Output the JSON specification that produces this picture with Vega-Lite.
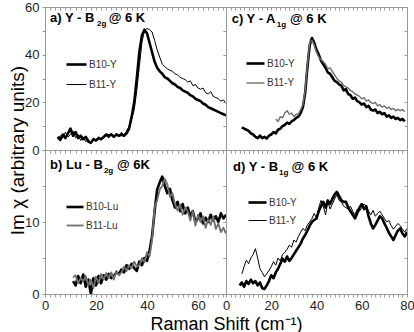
{
"$schema": "https://vega.github.io/schema/vega-lite/v6.json",
"padding": {"left": 8, "top": 0, "right": 5, "bottom": 0},
"background": "white",
"bounds": "flush",
"spacing": 0,
"columns": 2,
"config": {
  "view": {"stroke": "#9a9a9a", "strokeWidth": 1},
  "axis": {"grid": false, "domainColor": "#9a9a9a", "tickColor": "#9a9a9a", "tickSize": 3, "labelFont": "Liberation Sans", "labelFontSize": 13, "labelColor": "#222", "labelPadding": 2, "labelFlush": false, "labelOverlap": false, "titleFont": "Liberation Sans", "titleFontSize": 19, "titleFontWeight": "normal", "titleColor": "#000"},
  "legend": {"orient": "none", "title": null, "symbolType": "stroke", "symbolSize": 400, "labelFont": "Liberation Sans", "labelFontSize": 10, "labelColor": "#333", "labelOffset": 1, "padding": 0, "rowPadding": 4},
  "text": {"font": "Liberation Sans", "fontWeight": "bold", "fontSize": 13, "align": "left", "baseline": "alphabetic", "color": "#000"}
},
"datasets": {
  "a": [
    {"x":5,"B10-Y":5.5,"B11-Y":4.5},{"x":6,"B10-Y":4.2,"B11-Y":6.0},{"x":7,"B10-Y":6.5,"B11-Y":5.0},{"x":8,"B10-Y":5.0,"B11-Y":7.5},{"x":9,"B10-Y":7.0,"B11-Y":5.5},{"x":10,"B10-Y":9.0,"B11-Y":6.5},{"x":11,"B10-Y":6.0,"B11-Y":8.0},{"x":12,"B10-Y":7.5,"B11-Y":5.0},{"x":13,"B10-Y":5.0,"B11-Y":6.5},{"x":14,"B10-Y":6.0,"B11-Y":4.0},{"x":15,"B10-Y":4.5,"B11-Y":5.5},{"x":16,"B10-Y":5.5,"B11-Y":3.5},{"x":17,"B10-Y":3.5,"B11-Y":4.5},{"x":18,"B10-Y":3.0,"B11-Y":3.0},{"x":19,"B10-Y":4.5,"B11-Y":5.0},{"x":20,"B10-Y":4.0,"B11-Y":4.0},{"x":21,"B10-Y":5.0,"B11-Y":5.5},{"x":22,"B10-Y":4.5,"B11-Y":4.5},{"x":23,"B10-Y":5.5,"B11-Y":5.0},{"x":24,"B10-Y":6.5,"B11-Y":6.0},{"x":25,"B10-Y":6.0,"B11-Y":5.0},{"x":26,"B10-Y":6.5,"B11-Y":7.0},{"x":27,"B10-Y":5.5,"B11-Y":5.5},{"x":28,"B10-Y":6.5,"B11-Y":7.0},{"x":29,"B10-Y":6.0,"B11-Y":5.5},{"x":30,"B10-Y":6.5,"B11-Y":7.5},{"x":31,"B10-Y":6.0,"B11-Y":6.0},{"x":32,"B10-Y":7.0,"B11-Y":8.0},{"x":33,"B10-Y":9.0,"B11-Y":10.0},{"x":34,"B10-Y":14.0,"B11-Y":13.0},{"x":35,"B10-Y":20.0,"B11-Y":17.0},{"x":36,"B10-Y":30.0,"B11-Y":25.0},{"x":37,"B10-Y":41.0,"B11-Y":35.0},{"x":38,"B10-Y":48.0,"B11-Y":45.0},{"x":39,"B10-Y":50.5,"B11-Y":50.0},{"x":40,"B10-Y":49.0,"B11-Y":51.0},{"x":41,"B10-Y":45.0,"B11-Y":50.5},{"x":42,"B10-Y":41.0,"B11-Y":49.5},{"x":43,"B10-Y":37.0,"B11-Y":46.0},{"x":44,"B10-Y":34.5,"B11-Y":42.0},{"x":45,"B10-Y":33.0,"B11-Y":39.0},{"x":46,"B10-Y":32.0,"B11-Y":36.0},{"x":47,"B10-Y":30.5,"B11-Y":35.0},{"x":48,"B10-Y":30.0,"B11-Y":34.0},{"x":49,"B10-Y":29.0,"B11-Y":33.5},{"x":50,"B10-Y":28.0,"B11-Y":33.0},{"x":51,"B10-Y":27.5,"B11-Y":32.0},{"x":52,"B10-Y":26.5,"B11-Y":31.5},{"x":53,"B10-Y":26.0,"B11-Y":30.5},{"x":54,"B10-Y":25.0,"B11-Y":30.0},{"x":55,"B10-Y":24.5,"B11-Y":29.5},{"x":56,"B10-Y":24.0,"B11-Y":28.5},{"x":57,"B10-Y":23.0,"B11-Y":29.0},{"x":58,"B10-Y":22.5,"B11-Y":27.0},{"x":59,"B10-Y":21.5,"B11-Y":27.5},{"x":60,"B10-Y":21.0,"B11-Y":26.0},{"x":61,"B10-Y":20.5,"B11-Y":25.5},{"x":62,"B10-Y":19.5,"B11-Y":26.0},{"x":63,"B10-Y":19.0,"B11-Y":24.0},{"x":64,"B10-Y":18.0,"B11-Y":23.5},{"x":65,"B10-Y":17.5,"B11-Y":24.5},{"x":66,"B10-Y":17.0,"B11-Y":22.5},{"x":67,"B10-Y":16.5,"B11-Y":22.0},{"x":68,"B10-Y":16.0,"B11-Y":21.5},{"x":69,"B10-Y":15.5,"B11-Y":20.5},{"x":70,"B10-Y":15.0,"B11-Y":21.0},{"x":71,"B10-Y":14.5,"B11-Y":19.5}
  ],
  "c": [
    {"x":7,"B10-Y":9.5,"B11-Y":null},{"x":8,"B10-Y":9.0,"B11-Y":null},{"x":9,"B10-Y":8.5,"B11-Y":null},{"x":10,"B10-Y":8.0,"B11-Y":null},{"x":11,"B10-Y":7.0,"B11-Y":null},{"x":12,"B10-Y":6.5,"B11-Y":null},{"x":13,"B10-Y":5.5,"B11-Y":null},{"x":14,"B10-Y":5.0,"B11-Y":null},{"x":15,"B10-Y":6.0,"B11-Y":null},{"x":16,"B10-Y":5.0,"B11-Y":null},{"x":17,"B10-Y":5.5,"B11-Y":null},{"x":18,"B10-Y":4.8,"B11-Y":null},{"x":19,"B10-Y":6.0,"B11-Y":null},{"x":20,"B10-Y":6.5,"B11-Y":null},{"x":21,"B10-Y":7.5,"B11-Y":null},{"x":22,"B10-Y":7.0,"B11-Y":13.0},{"x":23,"B10-Y":8.5,"B11-Y":12.0},{"x":24,"B10-Y":9.0,"B11-Y":14.0},{"x":25,"B10-Y":10.0,"B11-Y":13.5},{"x":26,"B10-Y":10.5,"B11-Y":15.5},{"x":27,"B10-Y":11.5,"B11-Y":16.5},{"x":28,"B10-Y":11.0,"B11-Y":15.0},{"x":29,"B10-Y":12.0,"B11-Y":15.5},{"x":30,"B10-Y":12.5,"B11-Y":14.0},{"x":31,"B10-Y":13.5,"B11-Y":15.0},{"x":32,"B10-Y":14.0,"B11-Y":15.0},{"x":33,"B10-Y":15.5,"B11-Y":17.0},{"x":34,"B10-Y":18.0,"B11-Y":19.0},{"x":35,"B10-Y":24.0,"B11-Y":25.0},{"x":36,"B10-Y":35.0,"B11-Y":36.0},{"x":37,"B10-Y":44.0,"B11-Y":45.0},{"x":38,"B10-Y":47.0,"B11-Y":46.0},{"x":39,"B10-Y":45.0,"B11-Y":44.0},{"x":40,"B10-Y":42.0,"B11-Y":41.0},{"x":41,"B10-Y":40.0,"B11-Y":39.0},{"x":42,"B10-Y":37.5,"B11-Y":38.0},{"x":43,"B10-Y":36.0,"B11-Y":37.0},{"x":44,"B10-Y":34.5,"B11-Y":36.0},{"x":45,"B10-Y":32.5,"B11-Y":34.0},{"x":46,"B10-Y":32.0,"B11-Y":34.5},{"x":47,"B10-Y":30.5,"B11-Y":33.0},{"x":48,"B10-Y":29.0,"B11-Y":31.5},{"x":49,"B10-Y":28.5,"B11-Y":30.0},{"x":50,"B10-Y":27.5,"B11-Y":29.0},{"x":51,"B10-Y":27.0,"B11-Y":28.5},{"x":52,"B10-Y":25.0,"B11-Y":27.0},{"x":53,"B10-Y":25.5,"B11-Y":26.5},{"x":54,"B10-Y":23.5,"B11-Y":26.0},{"x":55,"B10-Y":23.0,"B11-Y":25.0},{"x":56,"B10-Y":21.5,"B11-Y":24.5},{"x":57,"B10-Y":22.0,"B11-Y":23.5},{"x":58,"B10-Y":20.5,"B11-Y":23.0},{"x":59,"B10-Y":20.0,"B11-Y":22.5},{"x":60,"B10-Y":19.0,"B11-Y":21.5},{"x":61,"B10-Y":19.5,"B11-Y":22.0},{"x":62,"B10-Y":18.0,"B11-Y":20.5},{"x":63,"B10-Y":18.5,"B11-Y":21.0},{"x":64,"B10-Y":17.0,"B11-Y":20.0},{"x":65,"B10-Y":16.5,"B11-Y":19.5},{"x":66,"B10-Y":17.0,"B11-Y":20.0},{"x":67,"B10-Y":15.5,"B11-Y":18.5},{"x":68,"B10-Y":16.0,"B11-Y":19.0},{"x":69,"B10-Y":15.0,"B11-Y":18.0},{"x":70,"B10-Y":15.5,"B11-Y":18.5},{"x":71,"B10-Y":14.0,"B11-Y":17.5},{"x":72,"B10-Y":14.5,"B11-Y":18.0},{"x":73,"B10-Y":13.5,"B11-Y":17.0},{"x":74,"B10-Y":14.0,"B11-Y":17.5},{"x":75,"B10-Y":13.0,"B11-Y":16.5},{"x":76,"B10-Y":13.5,"B11-Y":17.0},{"x":77,"B10-Y":12.5,"B11-Y":16.5},{"x":78,"B10-Y":13.0,"B11-Y":17.0},{"x":79,"B10-Y":12.0,"B11-Y":16.0}
  ],
  "b": [
    {"x":11,"B10-Lu":1.8,"B11-Lu":2.3},{"x":12,"B10-Lu":1.2,"B11-Lu":2.6},{"x":13,"B10-Lu":2.5,"B11-Lu":1.5},{"x":14,"B10-Lu":1.5,"B11-Lu":2.2},{"x":15,"B10-Lu":2.7,"B11-Lu":1.8},{"x":16,"B10-Lu":1.0,"B11-Lu":2.5},{"x":17,"B10-Lu":2.0,"B11-Lu":1.2},{"x":18,"B10-Lu":0.0,"B11-Lu":2.0},{"x":19,"B10-Lu":2.2,"B11-Lu":0.8},{"x":20,"B10-Lu":1.2,"B11-Lu":2.4},{"x":21,"B10-Lu":2.5,"B11-Lu":1.5},{"x":22,"B10-Lu":1.5,"B11-Lu":2.8},{"x":23,"B10-Lu":2.6,"B11-Lu":2.0},{"x":24,"B10-Lu":2.0,"B11-Lu":2.9},{"x":25,"B10-Lu":2.8,"B11-Lu":2.2},{"x":26,"B10-Lu":2.2,"B11-Lu":3.0},{"x":27,"B10-Lu":2.5,"B11-Lu":2.0},{"x":28,"B10-Lu":3.0,"B11-Lu":3.2},{"x":29,"B10-Lu":2.8,"B11-Lu":2.6},{"x":30,"B10-Lu":3.4,"B11-Lu":3.0},{"x":31,"B10-Lu":3.0,"B11-Lu":3.8},{"x":32,"B10-Lu":4.0,"B11-Lu":3.2},{"x":33,"B10-Lu":3.5,"B11-Lu":4.0},{"x":34,"B10-Lu":4.2,"B11-Lu":3.6},{"x":35,"B10-Lu":3.6,"B11-Lu":4.5},{"x":36,"B10-Lu":3.2,"B11-Lu":3.8},{"x":37,"B10-Lu":4.5,"B11-Lu":4.0},{"x":38,"B10-Lu":4.0,"B11-Lu":5.0},{"x":39,"B10-Lu":5.0,"B11-Lu":4.4},{"x":40,"B10-Lu":4.6,"B11-Lu":5.8},{"x":41,"B10-Lu":6.0,"B11-Lu":5.2},{"x":42,"B10-Lu":8.0,"B11-Lu":7.5},{"x":43,"B10-Lu":11.5,"B11-Lu":12.0},{"x":44,"B10-Lu":14.5,"B11-Lu":13.0},{"x":45,"B10-Lu":15.5,"B11-Lu":14.5},{"x":46,"B10-Lu":16.3,"B11-Lu":15.0},{"x":47,"B10-Lu":15.0,"B11-Lu":16.0},{"x":48,"B10-Lu":14.0,"B11-Lu":15.2},{"x":49,"B10-Lu":14.6,"B11-Lu":13.5},{"x":50,"B10-Lu":13.0,"B11-Lu":14.0},{"x":51,"B10-Lu":12.0,"B11-Lu":12.5},{"x":52,"B10-Lu":12.8,"B11-Lu":11.6},{"x":53,"B10-Lu":11.5,"B11-Lu":12.4},{"x":54,"B10-Lu":12.5,"B11-Lu":11.0},{"x":55,"B10-Lu":11.2,"B11-Lu":12.0},{"x":56,"B10-Lu":12.0,"B11-Lu":11.5},{"x":57,"B10-Lu":10.8,"B11-Lu":10.2},{"x":58,"B10-Lu":11.5,"B11-Lu":11.5},{"x":59,"B10-Lu":10.0,"B11-Lu":9.5},{"x":60,"B10-Lu":10.5,"B11-Lu":11.0},{"x":61,"B10-Lu":11.2,"B11-Lu":10.0},{"x":62,"B10-Lu":9.8,"B11-Lu":10.8},{"x":63,"B10-Lu":10.6,"B11-Lu":9.2},{"x":64,"B10-Lu":10.0,"B11-Lu":10.4},{"x":65,"B10-Lu":11.0,"B11-Lu":9.6},{"x":66,"B10-Lu":10.2,"B11-Lu":10.8},{"x":67,"B10-Lu":10.8,"B11-Lu":9.0},{"x":68,"B10-Lu":10.0,"B11-Lu":9.8},{"x":69,"B10-Lu":11.2,"B11-Lu":8.6},{"x":70,"B10-Lu":10.5,"B11-Lu":9.2},{"x":71,"B10-Lu":11.0,"B11-Lu":8.4}
  ],
  "d": [
    {"x":6,"B10-Y":1.2,"B11-Y":null},{"x":7,"B10-Y":1.6,"B11-Y":2.8},{"x":8,"B10-Y":1.0,"B11-Y":3.8},{"x":9,"B10-Y":1.8,"B11-Y":4.7},{"x":10,"B10-Y":1.4,"B11-Y":4.2},{"x":11,"B10-Y":2.0,"B11-Y":5.0},{"x":12,"B10-Y":1.5,"B11-Y":5.5},{"x":13,"B10-Y":1.8,"B11-Y":6.3},{"x":14,"B10-Y":1.2,"B11-Y":5.0},{"x":15,"B10-Y":1.6,"B11-Y":3.5},{"x":16,"B10-Y":0.8,"B11-Y":3.0},{"x":17,"B10-Y":0.7,"B11-Y":2.4},{"x":18,"B10-Y":1.2,"B11-Y":2.8},{"x":19,"B10-Y":1.8,"B11-Y":3.3},{"x":20,"B10-Y":2.6,"B11-Y":3.8},{"x":21,"B10-Y":2.2,"B11-Y":4.5},{"x":22,"B10-Y":3.0,"B11-Y":4.0},{"x":23,"B10-Y":3.5,"B11-Y":5.0},{"x":24,"B10-Y":4.2,"B11-Y":4.6},{"x":25,"B10-Y":4.9,"B11-Y":5.5},{"x":26,"B10-Y":4.5,"B11-Y":5.8},{"x":27,"B10-Y":5.2,"B11-Y":6.2},{"x":28,"B10-Y":4.6,"B11-Y":6.8},{"x":29,"B10-Y":5.0,"B11-Y":6.5},{"x":30,"B10-Y":5.5,"B11-Y":7.5},{"x":31,"B10-Y":6.0,"B11-Y":7.2},{"x":32,"B10-Y":6.5,"B11-Y":8.0},{"x":33,"B10-Y":7.0,"B11-Y":8.6},{"x":34,"B10-Y":7.7,"B11-Y":9.1},{"x":35,"B10-Y":8.2,"B11-Y":8.8},{"x":36,"B10-Y":8.8,"B11-Y":9.6},{"x":37,"B10-Y":9.5,"B11-Y":10.0},{"x":38,"B10-Y":10.0,"B11-Y":10.5},{"x":39,"B10-Y":10.3,"B11-Y":11.2},{"x":40,"B10-Y":10.5,"B11-Y":10.5},{"x":41,"B10-Y":11.5,"B11-Y":12.0},{"x":42,"B10-Y":12.2,"B11-Y":13.0},{"x":43,"B10-Y":12.8,"B11-Y":12.2},{"x":44,"B10-Y":12.0,"B11-Y":11.0},{"x":45,"B10-Y":13.0,"B11-Y":12.8},{"x":46,"B10-Y":12.5,"B11-Y":11.8},{"x":47,"B10-Y":13.2,"B11-Y":12.5},{"x":48,"B10-Y":13.8,"B11-Y":13.2},{"x":49,"B10-Y":14.2,"B11-Y":13.8},{"x":50,"B10-Y":13.6,"B11-Y":13.0},{"x":51,"B10-Y":13.0,"B11-Y":12.8},{"x":52,"B10-Y":12.8,"B11-Y":12.2},{"x":53,"B10-Y":12.8,"B11-Y":12.0},{"x":54,"B10-Y":12.0,"B11-Y":11.8},{"x":55,"B10-Y":11.5,"B11-Y":12.2},{"x":56,"B10-Y":11.0,"B11-Y":11.5},{"x":57,"B10-Y":10.5,"B11-Y":11.0},{"x":58,"B10-Y":11.2,"B11-Y":11.8},{"x":59,"B10-Y":12.0,"B11-Y":11.5},{"x":60,"B10-Y":12.5,"B11-Y":12.0},{"x":61,"B10-Y":11.8,"B11-Y":12.5},{"x":62,"B10-Y":12.2,"B11-Y":12.2},{"x":63,"B10-Y":10.8,"B11-Y":11.5},{"x":64,"B10-Y":9.8,"B11-Y":11.0},{"x":65,"B10-Y":9.1,"B11-Y":11.6},{"x":66,"B10-Y":9.6,"B11-Y":10.8},{"x":67,"B10-Y":10.2,"B11-Y":11.2},{"x":68,"B10-Y":10.8,"B11-Y":11.5},{"x":69,"B10-Y":10.5,"B11-Y":11.0},{"x":70,"B10-Y":9.8,"B11-Y":10.5},{"x":71,"B10-Y":9.2,"B11-Y":10.0},{"x":72,"B10-Y":8.5,"B11-Y":10.2},{"x":73,"B10-Y":8.0,"B11-Y":9.5},{"x":74,"B10-Y":7.5,"B11-Y":9.0},{"x":75,"B10-Y":8.2,"B11-Y":9.4},{"x":76,"B10-Y":8.8,"B11-Y":9.8},{"x":77,"B10-Y":9.1,"B11-Y":9.5},{"x":78,"B10-Y":8.4,"B11-Y":9.0},{"x":79,"B10-Y":8.0,"B11-Y":8.6},{"x":80,"B10-Y":8.6,"B11-Y":9.1}
  ]
},
"resolve": {"scale": {"x": "independent", "y": "independent", "color": "independent", "strokeWidth": "independent"}, "legend": {"color": "independent", "strokeWidth": "independent"}},
"concat": [
    {"width": 181, "height": 143,
     "resolve": {"axis": {"x": "independent", "y": "independent"}},
     "layer": [
      {"data": {"name": "a"}, "transform": [{"fold": ["B10-Y", "B11-Y"], "as": ["series", "value"]}],
       "mark": {"type": "line", "strokeJoin": "round", "clip": true},
       "encoding": {
        "x": {"field": "x", "type": "quantitative", "scale": {"domain": [0, 71], "nice": false, "zero": false},
              "axis": {"orient": "bottom", "values": [0,2,4,6,8,10,12,14,16,18,20,22,24,26,28,30,32,34,36,38,40,42,44,46,48,50,52,54,56,58,60,62,64,66,68,70], "labels": false, "title": null}},
        "y": {"field": "value", "type": "quantitative", "scale": {"domain": [0, 60], "nice": false},
              "axis": {"orient": "left", "values": [0,10,20,30,40,50,60], "labelExpr": "datum.value % 20 === 0 ? datum.label : ''", "labelPadding": 3, "labelOverlap": false,
                       "title": "Im χ (arbitrary units)", "titleAngle": -90, "titleAlign": "center", "titleBaseline": "middle", "titleX": -27.5, "titleY": 143}},
        "color": {"field": "series", "type": "nominal", "scale": {"domain": ["B10-Y", "B11-Y"], "range": ["#000000", "#000000"]}, "legend": {"legendX": 20, "legendY": 46}},
        "strokeWidth": {"field": "series", "type": "nominal", "scale": {"domain": ["B10-Y", "B11-Y"], "range": [2.6, 1]}, "legend": {"legendX": 20, "legendY": 46}}
       }},
      {"data": {"values": [{}]}, "mark": {"type": "text"}, "encoding": {
        "x": {"datum": 2, "axis": {"orient": "top", "values": [0,2,4,6,8,10,12,14,16,18,20,22,24,26,28,30,32,34,36,38,40,42,44,46,48,50,52,54,56,58,60,62,64,66,68,70], "labels": false, "tickSize": -3, "title": null}},
        "y": {"datum": 53.6, "axis": {"orient": "right", "values": [0,10,20,30,40,50,60], "labels": false, "tickSize": -3, "title": null}},
        "text": {"value": "a) Y - B"}}},
      {"data": {"values": [{}]}, "mark": {"type": "text", "fontSize": 8}, "encoding": {"x": {"datum": 20.4, "axis": null}, "y": {"datum": 51.9, "axis": null}, "text": {"value": "2g"}}},
      {"data": {"values": [{}]}, "mark": {"type": "text"}, "encoding": {"x": {"datum": 25, "axis": null}, "y": {"datum": 53.6, "axis": null}, "text": {"value": "@ 6 K"}}}
     ]},
    {"width": 181, "height": 143,
     "resolve": {"axis": {"x": "independent", "y": "independent"}},
     "layer": [
      {"data": {"name": "c"}, "transform": [{"fold": ["B10-Y", "B11-Y"], "as": ["series", "value"]}],
       "mark": {"type": "line", "strokeJoin": "round", "clip": true},
       "encoding": {
        "x": {"field": "x", "type": "quantitative", "scale": {"domain": [0, 80], "nice": false, "zero": false},
              "axis": {"orient": "bottom", "values": [0,2,4,6,8,10,12,14,16,18,20,22,24,26,28,30,32,34,36,38,40,42,44,46,48,50,52,54,56,58,60,62,64,66,68,70,72,74,76,78,80], "labels": false, "title": null}},
        "y": {"field": "value", "type": "quantitative", "scale": {"domain": [0, 60], "nice": false},
              "axis": {"orient": "left", "values": [0,10,20,30,40,50,60], "labels": false, "title": null}},
        "color": {"field": "series", "type": "nominal", "scale": {"domain": ["B10-Y", "B11-Y"], "range": ["#000000", "#6e6e6e"]}, "legend": {"legendX": 19, "legendY": 46, "symbolSize": 324}},
        "strokeWidth": {"field": "series", "type": "nominal", "scale": {"domain": ["B10-Y", "B11-Y"], "range": [2.6, 1.4]}, "legend": {"legendX": 19, "legendY": 46, "symbolSize": 324}}
       }},
      {"data": {"values": [{}]}, "mark": {"type": "text"}, "encoding": {
        "x": {"datum": 2.5, "axis": {"orient": "top", "values": [0,2,4,6,8,10,12,14,16,18,20,22,24,26,28,30,32,34,36,38,40,42,44,46,48,50,52,54,56,58,60,62,64,66,68,70,72,74,76,78,80], "labels": false, "tickSize": -3, "title": null}},
        "y": {"datum": 53.4, "axis": {"orient": "right", "values": [0,10,20,30,40,50,60], "labels": false, "tickSize": -3, "title": null}},
        "text": {"value": "c) Y - A"}}},
      {"data": {"values": [{}]}, "mark": {"type": "text", "fontSize": 8}, "encoding": {"x": {"datum": 22.4, "axis": null}, "y": {"datum": 51.7, "axis": null}, "text": {"value": "1g"}}},
      {"data": {"values": [{}]}, "mark": {"type": "text"}, "encoding": {"x": {"datum": 28.3, "axis": null}, "y": {"datum": 53.4, "axis": null}, "text": {"value": "@ 6 K"}}}
     ]},
    {"width": 181, "height": 144,
     "resolve": {"axis": {"x": "independent", "y": "independent"}},
     "layer": [
      {"data": {"name": "b"}, "transform": [{"fold": ["B10-Lu", "B11-Lu"], "as": ["series", "value"]}],
       "mark": {"type": "line", "strokeJoin": "round", "clip": true},
       "encoding": {
        "x": {"field": "x", "type": "quantitative", "scale": {"domain": [0, 71], "nice": false, "zero": false},
              "axis": {"orient": "bottom", "values": [0,2,4,6,8,10,12,14,16,18,20,22,24,26,28,30,32,34,36,38,40,42,44,46,48,50,52,54,56,58,60,62,64,66,68,70], "labelExpr": "datum.value % 20 === 0 ? datum.label : ''", "labelOverlap": false,
                       "title": "Raman Shift (cm⁻¹)", "titleFontSize": 18, "titleX": 181, "titleY": 35, "titleAlign": "center", "titleBaseline": "alphabetic"}},
        "y": {"field": "value", "type": "quantitative", "scale": {"domain": [0, 20], "nice": false},
              "axis": {"orient": "left", "values": [0,5,10,15,20], "labelExpr": "datum.value === 0 || datum.value === 10 ? datum.label : ''", "labelPadding": 3, "labelOverlap": false, "title": null}},
        "color": {"field": "series", "type": "nominal", "scale": {"domain": ["B10-Lu", "B11-Lu"], "range": ["#000000", "#6e6e6e"]}, "legend": {"legendX": 20, "legendY": 47, "rowPadding": 3, "symbolSize": 289}},
        "strokeWidth": {"field": "series", "type": "nominal", "scale": {"domain": ["B10-Lu", "B11-Lu"], "range": [2.6, 1.8]}, "legend": {"legendX": 20, "legendY": 47, "rowPadding": 3, "symbolSize": 289}}
       }},
      {"data": {"values": [{}]}, "mark": {"type": "text"}, "encoding": {
        "x": {"datum": 2, "axis": {"orient": "top", "values": [0,2,4,6,8,10,12,14,16,18,20,22,24,26,28,30,32,34,36,38,40,42,44,46,48,50,52,54,56,58,60,62,64,66,68,70], "labels": false, "tickSize": -3, "title": null}},
        "y": {"datum": 17.4, "axis": {"orient": "right", "values": [0,5,10,15,20], "labels": false, "tickSize": -3, "title": null}},
        "text": {"value": "b) Lu - B"}}},
      {"data": {"values": [{}]}, "mark": {"type": "text", "fontSize": 8}, "encoding": {"x": {"datum": 23.1, "axis": null}, "y": {"datum": 16.8, "axis": null}, "text": {"value": "2g"}}},
      {"data": {"values": [{}]}, "mark": {"type": "text"}, "encoding": {"x": {"datum": 28.2, "axis": null}, "y": {"datum": 17.4, "axis": null}, "text": {"value": "@ 6K"}}}
     ]},
    {"width": 181, "height": 144,
     "resolve": {"axis": {"x": "independent", "y": "independent"}},
     "layer": [
      {"data": {"name": "d"}, "transform": [{"fold": ["B10-Y", "B11-Y"], "as": ["series", "value"]}],
       "mark": {"type": "line", "strokeJoin": "round", "clip": true},
       "encoding": {
        "x": {"field": "x", "type": "quantitative", "scale": {"domain": [0, 80], "nice": false, "zero": false},
              "axis": {"orient": "bottom", "values": [0,2,4,6,8,10,12,14,16,18,20,22,24,26,28,30,32,34,36,38,40,42,44,46,48,50,52,54,56,58,60,62,64,66,68,70,72,74,76,78,80], "labelExpr": "datum.value % 20 === 0 ? datum.label : ''", "labelOverlap": false, "title": null}},
        "y": {"field": "value", "type": "quantitative", "scale": {"domain": [0, 20], "nice": false},
              "axis": {"orient": "left", "values": [0,5,10,15,20], "labels": false, "title": null}},
        "color": {"field": "series", "type": "nominal", "scale": {"domain": ["B10-Y", "B11-Y"], "range": ["#000000", "#000000"]}, "legend": {"legendX": 21, "legendY": 42, "rowPadding": 3, "symbolSize": 324}},
        "strokeWidth": {"field": "series", "type": "nominal", "scale": {"domain": ["B10-Y", "B11-Y"], "range": [2.6, 1]}, "legend": {"legendX": 21, "legendY": 42, "rowPadding": 3, "symbolSize": 324}}
       }},
      {"data": {"values": [{}]}, "mark": {"type": "text"}, "encoding": {
        "x": {"datum": 3.1, "axis": {"orient": "top", "values": [0,2,4,6,8,10,12,14,16,18,20,22,24,26,28,30,32,34,36,38,40,42,44,46,48,50,52,54,56,58,60,62,64,66,68,70,72,74,76,78,80], "labels": false, "tickSize": -3, "title": null}},
        "y": {"datum": 17.1, "axis": {"orient": "right", "values": [0,5,10,15,20], "labels": false, "tickSize": -3, "title": null}},
        "text": {"value": "d) Y - B"}}},
      {"data": {"values": [{}]}, "mark": {"type": "text", "fontSize": 8}, "encoding": {"x": {"datum": 23.4, "axis": null}, "y": {"datum": 16.5, "axis": null}, "text": {"value": "1g"}}},
      {"data": {"values": [{}]}, "mark": {"type": "text"}, "encoding": {"x": {"datum": 29, "axis": null}, "y": {"datum": 17.1, "axis": null}, "text": {"value": "@ 6 K"}}}
     ]}
]
}
